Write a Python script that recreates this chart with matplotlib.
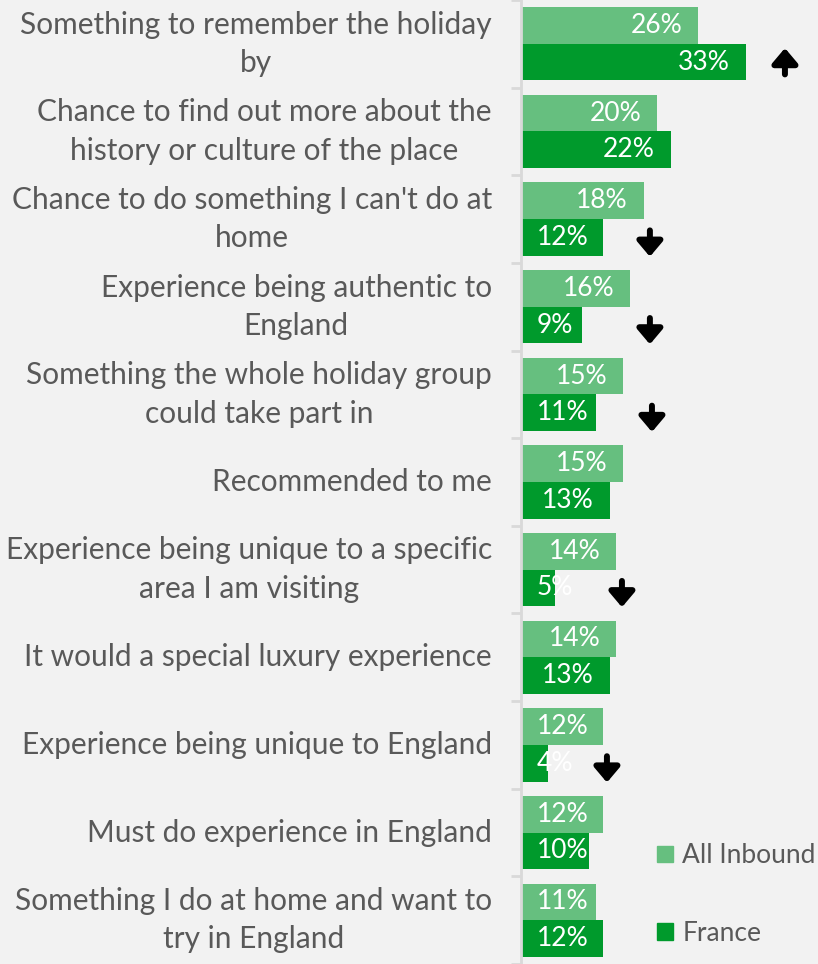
import matplotlib
matplotlib.use("Agg")
import matplotlib.pyplot as plt
from matplotlib.patches import Patch
from matplotlib.transforms import offset_copy
import numpy as np

categories = [
    "Something to remember the holiday\nby",
    "Chance to find out more about the\nhistory or culture of the place",
    "Chance to do something I can't do at\nhome",
    "Experience being authentic to\nEngland",
    "Something the whole holiday group\ncould take part in",
    "Recommended to me",
    "Experience being unique to a specific\narea I am visiting",
    "It would a special luxury experience",
    "Experience being unique to England",
    "Must do experience in England",
    "Something I do at home and want to\ntry in England",
]
all_inbound = [26, 20, 18, 16, 15, 15, 14, 14, 12, 12, 11]
france = [33, 22, 12, 9, 11, 13, 5, 13, 4, 10, 12]
# significance direction for France vs All Inbound (+1 up, -1 down, 0 none)
sig_direction = [1, 0, -1, -1, -1, 0, -1, 0, -1, 0, 0]
arrow_x = [38.7, 0, 18.9, 18.9, 19.2, 0, 14.8, 0, 12.6, 0, 0]
series_names = ["All Inbound", "France"]

FONT = "Lato"
plt.rcParams["font.family"] = [FONT, "DejaVu Sans"]

W, H = 818, 964
fig = plt.figure(figsize=(W / 100, H / 100), dpi=100, facecolor="#f2f2f2")
ax_left = 521 / W
ax = fig.add_axes([ax_left, 0, 1 - ax_left, 1])
ax.set_facecolor("#f2f2f2")

c_light = "#66bf7f"
c_dark = "#009a2c"
px_per_pct = 6.82
ax.set_xlim(0, (W - 521) / px_per_pct)
cat_px = 88.6
first_center = 42.3
ax.set_ylim((H - first_center) / cat_px, -first_center / cat_px)

y = np.arange(len(categories))
bh = 0.418
ax.barh(y - bh / 2, all_inbound, height=bh, color=c_light, label=series_names[0])
ax.barh(y + bh / 2, france, height=bh, color=c_dark, label=series_names[1])

lab_fs = 21.5
val_fs = 19
renderer = fig.canvas.get_renderer()
ax_x0 = ax.transData.transform((0, 0))[0]
pad_px = 16
for vals, off in ((all_inbound, -bh / 2), (france, bh / 2)):
    for i, v in enumerate(vals):
        tr = offset_copy(ax.transData, fig=fig, x=-pad_px * 0.72, y=0, units="points")
        t = ax.text(v, i + off, f"{v}%", transform=tr, ha="right", va="center",
                    color="white", fontsize=val_fs)
        bb = t.get_window_extent(renderer)
        if bb.x0 < ax_x0 + pad_px:
            t.remove()
            tr2 = offset_copy(ax.transData, fig=fig, x=pad_px * 0.72, y=0, units="points")
            ax.text(0, i + off, f"{v}%", transform=tr2, ha="left", va="center",
                    color="white", fontsize=val_fs)

for i, d in enumerate(sig_direction):
    if d == 0:
        continue
    yc = i + bh / 2 + (0.07 if d < 0 else -0.01)
    tail = yc + 0.15 * d
    head = yc - 0.15 * d
    ax.annotate("", xy=(arrow_x[i], head), xytext=(arrow_x[i], tail),
                arrowprops=dict(arrowstyle="-|>,head_width=0.38,head_length=0.45",
                                lw=4.3, color="black", shrinkA=0, shrinkB=0,
                                mutation_scale=20))

# axes styling
for s in ("top", "right", "bottom"):
    ax.spines[s].set_visible(False)
ax.spines["left"].set_color("#d9d9d9")
ax.spines["left"].set_linewidth(2)
ax.set_xticks([])
ax.set_yticks(y)
ax.set_yticklabels(categories, fontsize=lab_fs, color="#595959",
                   multialignment="center", linespacing=1.45, va="center")
ax.tick_params(axis="y", which="major", length=0, pad=21)
ax.set_yticks(np.arange(len(categories) + 1) - 0.5, minor=True)
ax.tick_params(axis="y", which="minor", length=7, width=2, color="#d9d9d9")

handles = [Patch(color=c_light), Patch(color=c_dark)]
leg = fig.legend(handles, series_names, loc="upper left",
                 bbox_to_anchor=(652 / W, 1 - 838 / H), frameon=False,
                 fontsize=19, labelcolor="#595959", handlelength=0.6,
                 handleheight=0.6, handletextpad=0.35, labelspacing=2.0,
                 borderpad=0.2, borderaxespad=0)

fig.savefig("out.png", dpi=100, facecolor=fig.get_facecolor())
